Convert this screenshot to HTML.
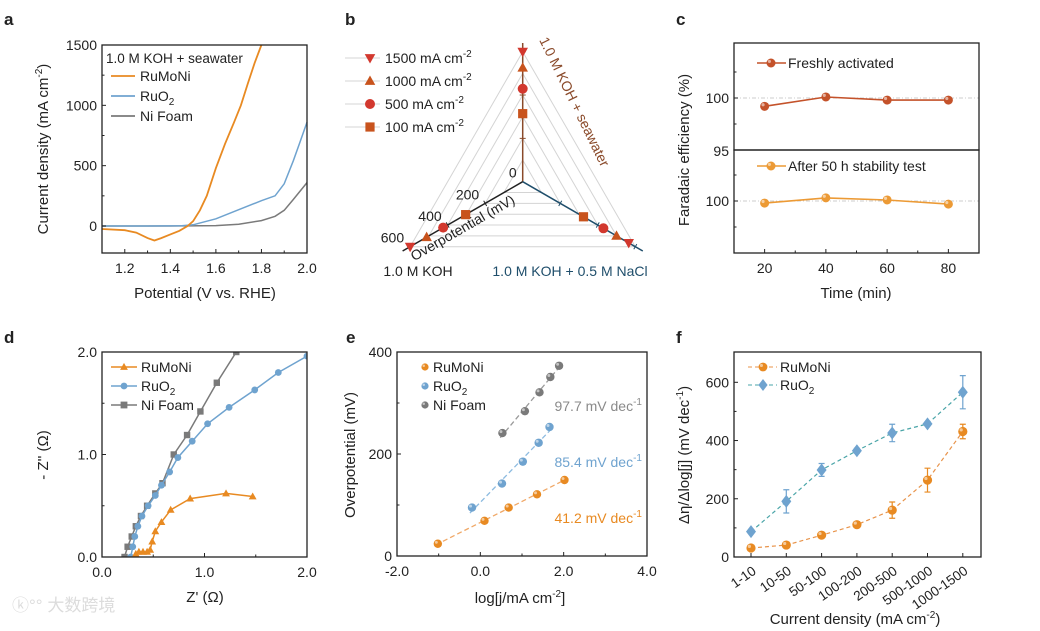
<!DOCTYPE html>
<html><head><meta charset="utf-8"><style>
html,body{margin:0;padding:0;background:#fff;}
svg{display:block;font-family:"Liberation Sans","Noto Sans CJK SC",sans-serif;}
</style></head><body>
<svg id="fig" width="1040" height="631" viewBox="0 0 1040 631" xmlns="http://www.w3.org/2000/svg"></svg>
<script>
// ---------- data ----------
// panel a: LSV curves
const aRuMoNiV=[1.1,1.2,1.25,1.3,1.33,1.36,1.4,1.44,1.476,1.5,1.53,1.56,1.6,1.64,1.68,1.71,1.74,1.77,1.8];
const aRuMoNiJ=[-25,-35,-55,-100,-120,-100,-70,-40,0,40,130,250,480,680,860,1000,1180,1350,1500];
const aRuO2V=[1.1,1.3,1.45,1.5,1.6,1.7,1.8,1.86,1.9,1.94,1.97,2.0];
const aRuO2J=[0,0,2,10,60,135,210,250,350,540,700,860];
const aNiV=[1.1,1.4,1.6,1.7,1.8,1.86,1.9,1.94,1.97,2.0];
const aNiJ=[0,0,3,15,45,80,130,220,290,360];
// panel b: radar overpotentials (mV) per current density; axes: seawater, KOH, KOH+NaCl
const bLevels=['1500 mA cm','1000 mA cm','500 mA cm','100 mA cm'];
const bSeawater=[600,526,429,314];
const bKOH=[600,512,424,304];
const bNaCl=[565,500,430,324];
const bTicks=[0,200,400,600];
// panel c: faradaic efficiency
const cTime=[20,40,60,80];
const cFresh=[99.2,100.1,99.8,99.8];
const cAfter=[99.8,100.3,100.1,99.7];
// panel d: Nyquist
const dRuMoNiX=[0.33,0.36,0.40,0.44,0.47,0.49,0.52,0.58,0.67,0.86,1.21,1.47];
const dRuMoNiY=[0.03,0.05,0.05,0.05,0.07,0.15,0.25,0.34,0.46,0.57,0.62,0.59];
const dRuO2X=[0.28,0.30,0.32,0.35,0.39,0.45,0.52,0.58,0.66,0.74,0.88,1.03,1.24,1.49,1.72,2.0];
const dRuO2Y=[0.0,0.1,0.2,0.3,0.4,0.5,0.6,0.7,0.83,0.97,1.13,1.30,1.46,1.63,1.80,1.96];
const dNiX=[0.22,0.25,0.29,0.33,0.38,0.44,0.52,0.59,0.70,0.83,0.96,1.12,1.31];
const dNiY=[0,0.1,0.2,0.3,0.4,0.5,0.62,0.72,1.0,1.19,1.42,1.7,2.0];
// panel e: Tafel
const eRuMoNiX=[-1.02,0.10,0.68,1.36,2.02];
const eRuMoNiY=[24,69,95,121,149];
const eRuO2X=[-0.2,0.52,1.02,1.40,1.66];
const eRuO2Y=[95,142,185,222,253];
const eNiX=[0.53,1.07,1.42,1.68,1.89];
const eNiY=[241,284,321,351,373];
const eSlopes=['41.2','85.4','97.7'];
// panel f
const fCats=['1-10','10-50','50-100','100-200','200-500','500-1000','1000-1500'];
const fRuMoNi=[31,41,75,111,161,264,431];
const fRuMoNiErr=[6,6,8,10,28,41,25];
const fRuO2=[87,191,299,365,426,457,566];
const fRuO2Err=[5,40,22,8,30,6,57];

// ---------- helpers ----------
const NS='http://www.w3.org/2000/svg';
const svg=document.getElementById('fig');
function el(tag,attrs,parent,text){const e=document.createElementNS(NS,tag);for(const k in attrs)e.setAttribute(k,attrs[k]);if(text!==undefined)e.textContent=text;(parent||svg).appendChild(e);return e;}
function lin(d0,d1,r0,r1){return v=>r0+(v-d0)*(r1-r0)/(d1-d0);}
function grp(name){const g=el('g',{});return g;}
function txt(g,x,y,s,opt){opt=opt||{};const t=el('text',{x:x,y:y,'font-size':opt.fs||14,'text-anchor':opt.anchor||'middle',fill:opt.fill||'#222'},g);
 if(opt.rot!==undefined)t.setAttribute('transform','rotate('+opt.rot+' '+x+' '+y+')');
 if(opt.weight)t.setAttribute('font-weight',opt.weight);
 if(opt.name){}
 t.innerHTML=s;return t;}
function box(g,x0,y0,x1,y1){const r=el('rect',{x:x0,y:y0,width:x1-x0,height:y1-y0,fill:'none',stroke:'#222','stroke-width':1.3},g);}
function xticks(g,sx,vals,labels,y1,opt){opt=opt||{};vals.forEach((v,i)=>{const x=sx(v);el('line',{x1:x,x2:x,y1:y1,y2:y1-4,stroke:'#222','stroke-width':1},g);
 if(labels&&labels[i]!=='')txt(g,x,y1+20,labels[i],{name:'x-tick-label'});});
 (opt.minor||[]).forEach(v=>{const x=sx(v);el('line',{x1:x,x2:x,y1:y1,y2:y1-2.5,stroke:'#222','stroke-width':1},g);});}
function yticks(g,sy,vals,labels,x0,opt){opt=opt||{};vals.forEach((v,i)=>{const y=sy(v);el('line',{x1:x0,x2:x0+4,y1:y,y2:y,stroke:'#222','stroke-width':1},g);
 if(labels&&labels[i]!=='')txt(g,x0-5,y+5,labels[i],{anchor:'end',name:'y-tick-label'});});
 (opt.minor||[]).forEach(v=>{const y=sy(v);el('line',{x1:x0,x2:x0+2.5,y1:y,y2:y,stroke:'#222','stroke-width':1},g);});}
function path(g,xs,ys,sx,sy,attrs,name){const d=xs.map((x,i)=>(i?'L':'M')+sx(x).toFixed(1)+' '+sy(ys[i]).toFixed(1)).join(' ');
 const p=el('path',Object.assign({d:d,fill:'none'},attrs),g);return p;}
function marker(g,type,x,y,s,fill,name){let e;
 if(type==='circle')e=el('circle',{cx:x,cy:y,r:s,fill:fill},g);
 else if(type==='square')e=el('rect',{x:x-s,y:y-s,width:2*s,height:2*s,fill:fill},g);
 else if(type==='up')e=el('polygon',{points:`${x},${y-s*1.2} ${x-s*1.15},${y+s*0.85} ${x+s*1.15},${y+s*0.85}`,fill:fill},g);
 else if(type==='down')e=el('polygon',{points:`${x},${y+s*1.2} ${x-s*1.15},${y-s*0.85} ${x+s*1.15},${y-s*0.85}`,fill:fill},g);
 else if(type==='diamond')e=el('polygon',{points:`${x},${y-s*1.3} ${x+s},${y} ${x},${y+s*1.3} ${x-s},${y}`,fill:fill},g);
 return e;}
function ball(g,x,y,r,col,name){marker(g,'circle',x,y,r,col,name);el('circle',{cx:x-r*0.35,cy:y-r*0.35,r:r*0.35,fill:'#fff','fill-opacity':0.55},g);}
const OR='#e88a22',BL='#6fa3cf',GR='#7a7a7a';

// panel labels
[['a',4,25],['b',345,25],['c',676,25],['d',4,343],['e',346,343],['f',676,343]].forEach(l=>{txt(svg,l[1],l[2],l[0],{fs:17,weight:'bold',anchor:'start',name:'panel-label-'+l[0]});});

// ---------- panel a ----------
(function(){const g=grp('panel-a-lsv');
 const X0=102,X1=307,Y0=45,Y1=253;
 const sx=lin(1.1,2.0,X0,X1),sy=lin(0,1500,226,45);
 path(g,aNiV,aNiJ,sx,sy,{stroke:GR,'stroke-width':1.5},'line-nifoam');
 path(g,aRuO2V,aRuO2J,sx,sy,{stroke:BL,'stroke-width':1.5},'line-ruo2');
 path(g,aRuMoNiV,aRuMoNiJ,sx,sy,{stroke:OR,'stroke-width':1.8},'line-rumoni');
 box(g,X0,Y0,X1,Y1);
 xticks(g,sx,[1.2,1.4,1.6,1.8,2.0],['1.2','1.4','1.6','1.8','2.0'],Y1,{minor:[1.3,1.5,1.7,1.9]});
 yticks(g,sy,[0,500,1000,1500],['0','500','1000','1500'],X0,{minor:[250,750,1250]});
 txt(g,48,149,'Current density (mA cm<tspan dy="-6" font-size="10">-2</tspan><tspan dy="6">)</tspan>',{fs:15,rot:-90,name:'y-axis-title'});
 txt(g,205,298,'Potential (V vs. RHE)',{fs:15,name:'x-axis-title'});
 txt(g,106,63,'1.0 M KOH + seawater',{anchor:'start',fs:13.5,name:'condition-label'});
 [['RuMoNi',OR],['RuO<tspan dy="4" font-size="10">2</tspan>',BL],['Ni Foam',GR]].forEach((l,i)=>{const y=81+i*20;
  const lg=grp('legend-entry');g.appendChild(lg);el('line',{x1:111,x2:135,y1:y-5,y2:y-5,stroke:l[1],'stroke-width':1.8},lg);txt(lg,140,y,l[0],{anchor:'start',fs:14});});
})();

// ---------- panel b ----------
(function(){const g=grp('panel-b-radar');
 const cx=522.7,cy=181.7,k=130/600;
 const ang=[-90,150,30].map(a=>a*Math.PI/180);
 const pt=(ai,v)=>[cx+Math.cos(ang[ai])*v*k,cy+Math.sin(ang[ai])*v*k];
 [100,200,300,400,500,600].forEach(v=>{const p=[0,1,2].map(i=>pt(i,v));
  el('polygon',{points:p.map(q=>q.join(',')).join(' '),fill:'none',stroke:'#d4d4d4','stroke-width':1},g);});
 // legend lines
 bLevels.forEach((l,i)=>{const y=58+i*23;el('line',{x1:345,x2:380,y1:y,y2:y,stroke:'#d4d4d4','stroke-width':1},g);});
 const cols=['#8a4a2a','#222','#1f4e6b'];
 [0,1,2].forEach(i=>{const e=pt(i,640);const a=el('line',{x1:cx,y1:cy,x2:e[0],y2:e[1],stroke:cols[i],'stroke-width':1.5},g);
  [200,400,600].forEach(v=>{const p=pt(i,v);const dx=-Math.sin(ang[i])*3,dy=Math.cos(ang[i])*3;el('line',{x1:p[0]-dx,y1:p[1]-dy,x2:p[0]+dx,y2:p[1]+dy,stroke:cols[i],'stroke-width':1},g);});});
 const types=['down','up','circle','square'],mc=['#d2382e','#c8531d','#d2382e','#c8531d'];
 const series=[bSeawater,bKOH,bNaCl];
 series.forEach((arr,ai)=>arr.forEach((v,i)=>{const p=pt(ai,v);marker(g,types[i],p[0],p[1],types[i]==='circle'?5:4.6,mc[i],'radar-point');}));
 bLevels.forEach((l,i)=>{const y=58+i*23;marker(g,types[i],370,y,types[i]==='circle'?5:4.6,mc[i],'legend-marker');
  txt(g,385,y+5,l+'<tspan dy="-6" font-size="10">-2</tspan>',{anchor:'start',fs:14,name:'legend-entry'});});
 bTicks.forEach(v=>{const p=pt(1,v);txt(g,p[0]-6,p[1]-4,String(v),{anchor:'end',fs:14,name:'radar-tick-label'});});
 txt(g,465,232,'Overpotential (mV)',{fs:14,rot:-30,name:'radar-axis-title'});
 txt(g,539,40,'1.0 M KOH + seawater',{fs:14,anchor:'start',fill:'#8a4a2a',rot:64,name:'seawater-axis-label'});
 txt(g,418,276,'1.0 M KOH',{fs:14,name:'koh-axis-label'});
 txt(g,570,276,'1.0 M KOH + 0.5 M NaCl',{fs:14,fill:'#1f4e6b',name:'nacl-axis-label'});
})();

// ---------- panel c ----------
(function(){const g=grp('panel-c-faradaic');
 const X0=734,X1=979;
 const sx=lin(10,90,X0,X1);
 const syT=lin(95,100,150,98),syB=lin(95,100,253,201);
 [[syT,98],[syB,201]].forEach(a=>el('line',{x1:X0,x2:X1,y1:a[1],y2:a[1],stroke:'#ccc','stroke-width':1,'stroke-dasharray':'4 2 1 2'},g));
 path(g,cTime,cFresh,sx,syT,{stroke:'#c4522a','stroke-width':1.6},'line-fresh');
 cTime.forEach((t,i)=>ball(g,sx(t),syT(cFresh[i]),4.5,'#c4522a','point-fresh'));
 path(g,cTime,cAfter,sx,syB,{stroke:'#ec9a35','stroke-width':1.6},'line-after');
 cTime.forEach((t,i)=>ball(g,sx(t),syB(cAfter[i]),4.5,'#ec9a35','point-after'));
 box(g,X0,43,X1,150);box(g,X0,150,X1,253);
 xticks(g,sx,[20,40,60,80],['20','40','60','80'],253,{minor:[30,50,70]});
 yticks(g,syT,[95,100],['',''],X0,{minor:[97.5,102.5]});
 yticks(g,syB,[100],['100'],X0,{minor:[97.5,102.5]});
 txt(g,X0-5,103,'100',{anchor:'end',name:'y-tick-label'});
 txt(g,X0-5,156,'95',{anchor:'end',name:'y-tick-label'});
 txt(g,689,150,'Faradaic efficiency (%)',{fs:15,rot:-90,name:'y-axis-title'});
 txt(g,856,298,'Time (min)',{fs:15,name:'x-axis-title'});
 const l1=grp('legend-entry');g.appendChild(l1);el('line',{x1:757,x2:786,y1:63,y2:63,stroke:'#c4522a','stroke-width':1.6},l1);ball(l1,771,63,4.5,'#c4522a','legend-marker');txt(l1,788,68,'Freshly activated',{anchor:'start',fs:14});
 const l2=grp('legend-entry');g.appendChild(l2);el('line',{x1:757,x2:786,y1:166,y2:166,stroke:'#ec9a35','stroke-width':1.6},l2);ball(l2,771,166,4.5,'#ec9a35','legend-marker');txt(l2,788,171,'After 50 h stability test',{anchor:'start',fs:14});
})();

// ---------- panel d ----------
(function(){const g=grp('panel-d-nyquist');
 const X0=102,X1=307,Y0=352,Y1=557;
 const sx=lin(0,2,X0,X1),sy=lin(0,2,Y1,Y0);
 const cl=el('clipPath',{id:'clipd'},g);el('rect',{x:X0,y:Y0,width:X1-X0,height:Y1-Y0},cl);
 const inner=el('g',{'clip-path':'url(#clipd)'},g);
 path(inner,dNiX,dNiY,sx,sy,{stroke:GR,'stroke-width':1.5},'line-nifoam');dNiX.forEach((x,i)=>marker(inner,'square',sx(x),sy(dNiY[i]),3.2,GR,'point-nifoam'));
 path(inner,dRuO2X,dRuO2Y,sx,sy,{stroke:BL,'stroke-width':1.5},'line-ruo2');dRuO2X.forEach((x,i)=>marker(inner,'circle',sx(x),sy(dRuO2Y[i]),3.4,BL,'point-ruo2'));
 path(inner,dRuMoNiX,dRuMoNiY,sx,sy,{stroke:OR,'stroke-width':1.5},'line-rumoni');dRuMoNiX.forEach((x,i)=>marker(inner,'up',sx(x),sy(dRuMoNiY[i]),3.4,OR,'point-rumoni'));
 box(g,X0,Y0,X1,Y1);
 xticks(g,sx,[0,1,2],['0.0','1.0','2.0'],Y1,{minor:[0.5,1.5]});
 yticks(g,sy,[0,1,2],['0.0','1.0','2.0'],X0,{minor:[0.5,1.5]});
 txt(g,48,455,"- Z'' (Ω)",{fs:15,rot:-90,name:'y-axis-title'});
 txt(g,205,602,"Z' (Ω)",{fs:15,name:'x-axis-title'});
 [['RuMoNi',OR,'up'],['RuO<tspan dy="4" font-size="10">2</tspan>',BL,'circle'],['Ni Foam',GR,'square']].forEach((l,i)=>{const y=372+i*19;
  const lg=grp('legend-entry');g.appendChild(lg);el('line',{x1:111,x2:137,y1:y-5,y2:y-5,stroke:l[1],'stroke-width':1.5},lg);marker(lg,l[2],124,y-5,3.4,l[1],'legend-marker');txt(lg,141,y,l[0],{anchor:'start',fs:14});});
 const w=txt(svg,12,611,'ⓚ°° 大数跨境',{anchor:'start',fs:17,fill:'#dcdcdc',name:'watermark'});
})();

// ---------- panel e ----------
(function(){const g=grp('panel-e-tafel');
 const X0=397,X1=647,Y0=352,Y1=556;
 const sx=lin(-2,4,X0,X1),sy=lin(0,400,Y1,Y0);
 function fit(xs,ys){const n=xs.length,mx=xs.reduce((a,b)=>a+b)/n,my=ys.reduce((a,b)=>a+b)/n;let sxy=0,sxx=0;xs.forEach((x,i)=>{sxy+=(x-mx)*(ys[i]-my);sxx+=(x-mx)*(x-mx);});const m=sxy/sxx;return [m,my-m*mx];}
 [[eRuMoNiX,eRuMoNiY,'#f0a867',OR,'rumoni'],[eRuO2X,eRuO2Y,'#8dbbe0',BL,'ruo2'],[eNiX,eNiY,'#9a9a9a',GR,'nifoam']].forEach(s=>{
  const f=fit(s[0],s[1]);const xa=s[0][0]-0.05,xb=s[0][s[0].length-1]+0.05;
  path(g,[xa,xb],[f[0]*xa+f[1],f[0]*xb+f[1]],sx,sy,{stroke:s[2],'stroke-width':1.3,'stroke-dasharray':'5 3'},'fit-'+s[4]);
  s[0].forEach((x,i)=>ball(g,sx(x),sy(s[1][i]),4.2,s[3],'point-'+s[4]));});
 box(g,X0,Y0,X1,Y1);
 xticks(g,sx,[-2,0,2,4],['-2.0','0.0','2.0','4.0'],Y1,{minor:[-1,1,3]});
 yticks(g,sy,[0,200,400],['0','200','400'],X0,{minor:[100,300]});
 txt(g,355,455,'Overpotential (mV)',{fs:15,rot:-90,name:'y-axis-title'});
 txt(g,520,603,'log[j/mA cm<tspan dy="-6" font-size="10">-2</tspan><tspan dy="6">]</tspan>',{fs:15,name:'x-axis-title'});
 [[eSlopes[2],'#8a8a8a',411],[eSlopes[1],BL,467],[eSlopes[0],OR,523]].forEach(s=>txt(g,642,s[2],s[0]+' mV dec<tspan dy="-6" font-size="10">-1</tspan>',{anchor:'end',fs:14,fill:s[1],name:'slope-label'}));
 [['RuMoNi',OR],['RuO<tspan dy="4" font-size="10">2</tspan>',BL],['Ni Foam',GR]].forEach((l,i)=>{const y=372+i*19;
  const lg=grp('legend-entry');g.appendChild(lg);ball(lg,425,y-5,3.6,l[1],'legend-marker');txt(lg,433,y,l[0],{anchor:'start',fs:14});});
})();

// ---------- panel f ----------
(function(){const g=grp('panel-f-slopes');
 const X0=734,X1=981,Y0=352,Y1=557;
 const sx=i=>751+i*35.3,sy=lin(0,600,Y1,382.3);
 const idx=fCats.map((c,i)=>i);
 [[fRuO2,fRuO2Err,'#4aa5a8',BL,'diamond','ruo2'],[fRuMoNi,fRuMoNiErr,'#e8934a',OR,'ball','rumoni']].forEach(s=>{
  path(g,idx,s[0],sx,sy,{stroke:s[2],'stroke-width':1.2,'stroke-dasharray':'4 3'},'line-'+s[5]);
  s[0].forEach((v,i)=>{const x=sx(i);if(s[1][i]>0){const eb=el('path',{d:`M${x} ${sy(v-s[1][i])}V${sy(v+s[1][i])}M${x-3} ${sy(v-s[1][i])}h6M${x-3} ${sy(v+s[1][i])}h6`,stroke:s[3],'stroke-width':1.2,fill:'none'},g);}
   if(s[4]==='diamond')marker(g,'diamond',x,sy(v),5,s[3],'point-'+s[5]);else ball(g,x,sy(v),4.6,s[3],'point-'+s[5]);});});
 box(g,X0,Y0,X1,Y1);
 idx.forEach(i=>{const x=sx(i);el('line',{x1:x,x2:x,y1:Y1,y2:Y1-4,stroke:'#222'},g);txt(g,x+6,Y1+16,fCats[i],{anchor:'end',rot:-35,fs:13.5,name:'x-tick-label'});});
 yticks(g,sy,[0,200,400,600],['0','200','400','600'],X0,{minor:[100,300,500]});
 txt(g,689,455,'Δη/Δlog[j] (mV dec<tspan dy="-6" font-size="10">-1</tspan><tspan dy="6">)</tspan>',{fs:15,rot:-90,name:'y-axis-title'});
 txt(g,855,624,'Current density (mA cm<tspan dy="-6" font-size="10">-2</tspan><tspan dy="6">)</tspan>',{fs:15,name:'x-axis-title'});
 const l1=grp('legend-entry');g.appendChild(l1);el('line',{x1:748,x2:777,y1:367,y2:367,stroke:'#e8934a','stroke-dasharray':'4 3'},l1);ball(l1,763,367,4.4,OR,'legend-marker');txt(l1,780,372,'RuMoNi',{anchor:'start',fs:14});
 const l2=grp('legend-entry');g.appendChild(l2);el('line',{x1:748,x2:777,y1:385,y2:385,stroke:'#4aa5a8','stroke-dasharray':'4 3'},l2);marker(l2,'diamond',763,385,4.6,BL,'legend-marker');txt(l2,780,390,'RuO<tspan dy="4" font-size="10">2</tspan>',{anchor:'start',fs:14});
})();
</script>
</body></html>
